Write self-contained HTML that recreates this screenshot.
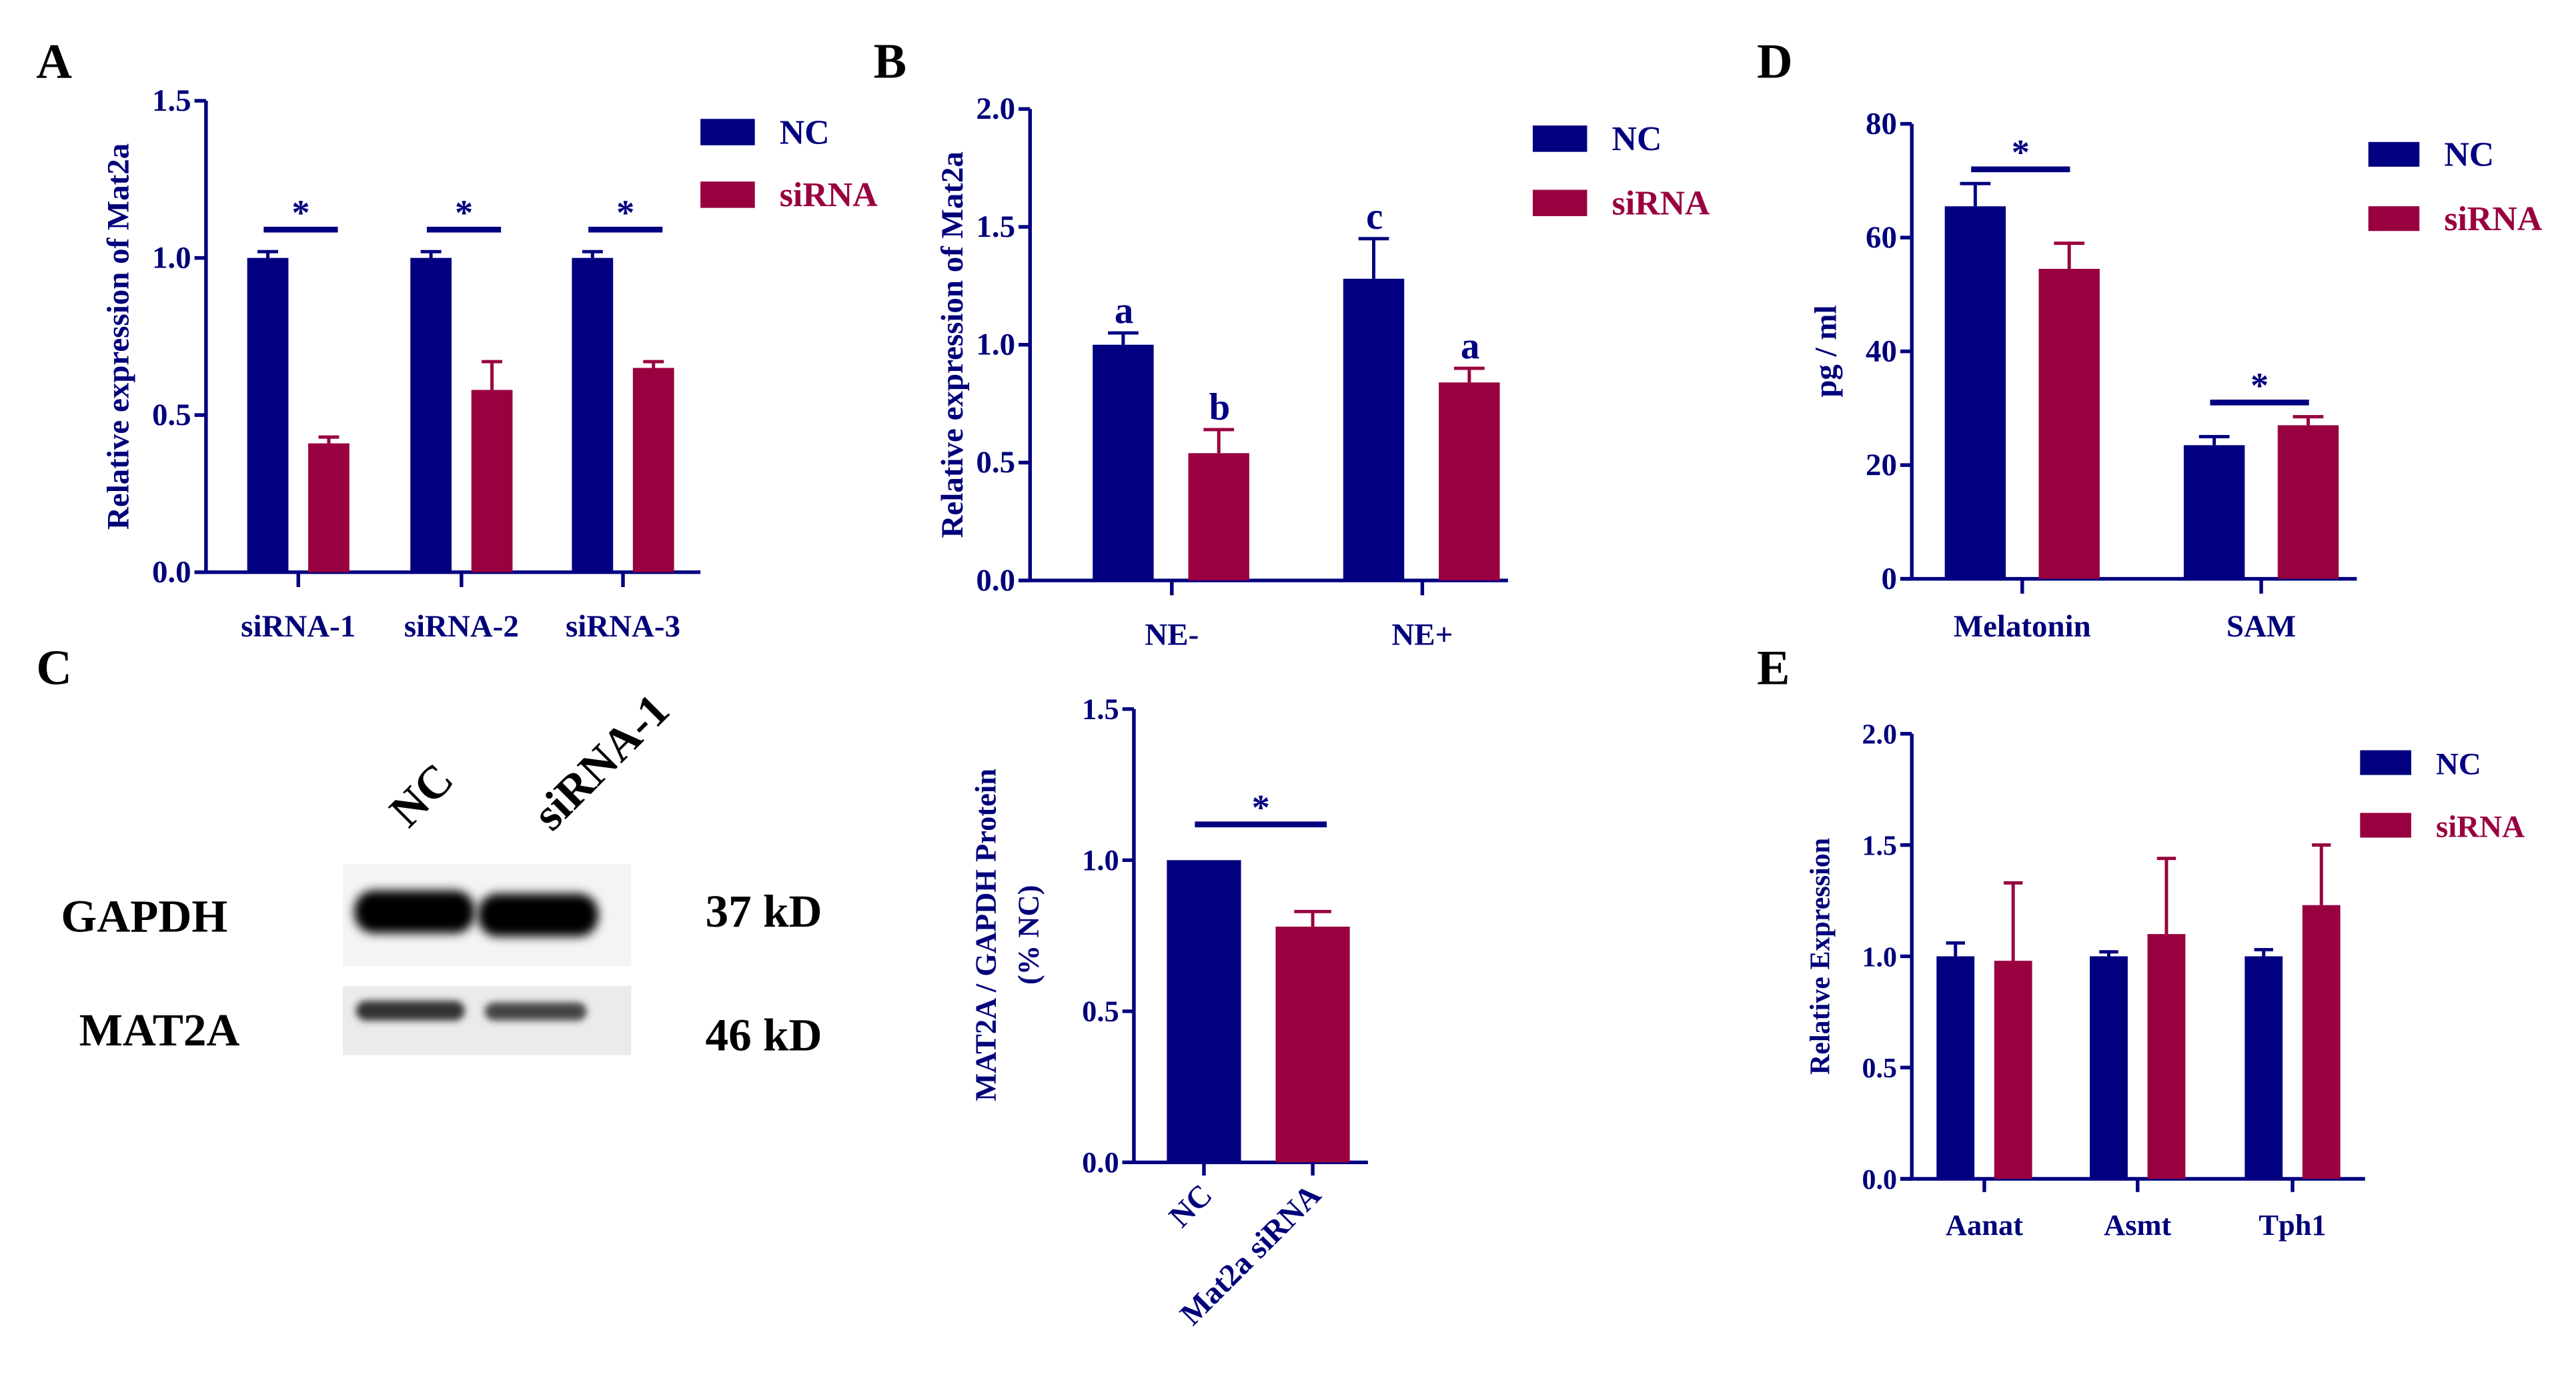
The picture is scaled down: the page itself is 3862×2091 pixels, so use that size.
<!DOCTYPE html>
<html><head><meta charset="utf-8">
<style>
html,body{margin:0;padding:0;background:#fff;}
svg{display:block;}
svg text{font-family:"Liberation Serif","Times New Roman",serif;font-weight:bold;}
</style></head>
<body>
<svg id="fig" width="3862" height="2091" viewBox="0 0 1563 846" xmlns="http://www.w3.org/2000/svg">
<defs>
<filter id="blur1" x="-20%" y="-50%" width="140%" height="200%"><feGaussianBlur stdDeviation="3"/></filter>
<filter id="blur2" x="-20%" y="-50%" width="140%" height="200%"><feGaussianBlur stdDeviation="2.2"/></filter>
</defs>
<g id="root" font-family="Liberation Serif, serif" font-weight="bold"></g>
</svg>
<script>
// Panel A data
const aCats = ["siRNA-1","siRNA-2","siRNA-3"];
const aNC = [1.0,1.0,1.0];
const aNCerr = [0.02,0.02,0.02];
const aSi = [0.41,0.58,0.65];
const aSiErr = [0.02,0.09,0.02];
const aTicks = [0.0,0.5,1.0,1.5];
// Panel B data
const bCats = ["NE-","NE+"];
const bNC = [1.0,1.28];
const bNCerr = [0.05,0.17];
const bSi = [0.54,0.84];
const bSiErr = [0.10,0.06];
const bLettersNC = ["a","c"];
const bLettersSi = ["b","a"];
const bTicks = [0.0,0.5,1.0,1.5,2.0];
// Panel D data
const dCats = ["Melatonin","SAM"];
const dNC = [65.5,23.5];
const dNCerr = [4,1.5];
const dSi = [54.5,27];
const dSiErr = [4.5,1.5];
const dTicks = [0,20,40,60,80];
// Panel C quantification
const cCats = ["NC","Mat2a siRNA"];
const cVals = [1.0,0.78];
const cErr = [0,0.05];
const cTicks = [0.0,0.5,1.0,1.5];
// Panel E data
const eCats = ["Aanat","Asmt","Tph1"];
const eNC = [1.0,1.0,1.0];
const eNCerr = [0.06,0.02,0.03];
const eSi = [0.98,1.1,1.23];
const eSiErr = [0.35,0.34,0.27];
const eTicks = [0.0,0.5,1.0,1.5,2.0];

const NAVY="#000080", RED="#990040", TXT="#00007a";
const NS="http://www.w3.org/2000/svg";
const root=document.getElementById('root');
function el(tag,attrs,parent,text){
  const e=document.createElementNS(NS,tag);
  for(const k in attrs) e.setAttribute(k,attrs[k]);
  if(text!==undefined) e.textContent=text;
  (parent||root).appendChild(e);
  return e;
}
function scale(y0,y1,v0,v1){return v=>y0+(v-v0)*(y1-y0)/(v1-v0);}

function axes(g,x0,x1,yb,yt,ticks,fmt,ys,tickFont){
  let a=el('line',{x1:x0,y1:yt,x2:x0,y2:yb,stroke:NAVY,'stroke-width':2.2},g);
  
  let b=el('line',{x1:x0-7,y1:yb,x2:x1,y2:yb,stroke:NAVY,'stroke-width':2.2},g);
  
  ticks.forEach(t=>{
    const y=ys(t);
    el('line',{x1:x0-7,y1:y,x2:x0,y2:y,stroke:NAVY,'stroke-width':2.2},g);
    const tx=el('text',{x:x0-9,y:y+6,'text-anchor':'end','font-size':tickFont||19,fill:TXT},g,fmt(t));
    
    
  });
}
function bar(g,x,w,v,err,ys,color,name){
  const y=ys(v), yb=ys(0);
  const r=el('rect',{x:x,y:y,width:w,height:yb-y,fill:color},g);
  
  
  if(err>0){
    const ye=ys(v+err), cx=x+w/2, hw=w*0.25;
    el('line',{x1:cx,y1:y,x2:cx,y2:ye,stroke:color,'stroke-width':2},g);
    el('line',{x1:cx-hw,y1:ye,x2:cx+hw,y2:ye,stroke:color,'stroke-width':2},g);
  }
}
function legend(g,x,y1,y2,h,w,fs){
  el('rect',{x:x,y:y1,width:w,height:h,fill:NAVY},g);
  const t1=el('text',{x:x+w+15,y:y1+h/2+7,'font-size':fs,fill:NAVY},g,"NC");
  
  el('rect',{x:x,y:y2,width:w,height:h,fill:RED},g);
  const t2=el('text',{x:x+w+15,y:y2+h/2+7,'font-size':fs,fill:RED},g,"siRNA");
  
}
function sig(g,xa,xb,y){
  el('line',{x1:xa,y1:y,x2:xb,y2:y,stroke:NAVY,'stroke-width':3.5},g);
  const s=el('text',{x:(xa+xb)/2,y:y-3,'text-anchor':'middle','font-size':22,fill:NAVY},g,"*");
  
}
function ytitle(g,x,y,txt,fs){
  const t=el('text',{x:x,y:y,'text-anchor':'middle','font-size':fs,fill:TXT,transform:`rotate(-90 ${x} ${y})`},g,txt);
  
}
function panelLabel(x,y,t){
  const e=el('text',{x:x,y:y,'font-size':30,fill:'#000'},root,t);
  
}
function catLabel(g,x,y,t,fs){
  const e=el('text',{x:x,y:y,'text-anchor':'middle','font-size':fs||19,fill:TXT},g,t);
  
}

// ===== Panel A
panelLabel(22,47,"A");
{
  const g=el('g',{});  
  const ys=scale(347,61,0,1.5);
  axes(g,125,425,347,61,aTicks,t=>t.toFixed(1),ys);
  const centers=[181,280,378];
  aCats.forEach((c,i)=>{
    const cx=centers[i];
    bar(g,cx-31,25,aNC[i],aNCerr[i],ys,NAVY,'bar-nc-'+c);
    bar(g,cx+6,25,aSi[i],aSiErr[i],ys,RED,'bar-sirna-'+c);
    el('line',{x1:cx,y1:347,x2:cx,y2:356,stroke:NAVY,'stroke-width':2.2},g);
    catLabel(g,cx,386,c);
    sig(g,cx-21,cx+24,ys(Math.max(aNC[i]+aNCerr[i],aSi[i]+aSiErr[i])+0.07));
  });
  ytitle(g,78,204,"Relative expression of Mat2a",19);
  legend(g,425,72,110,16,33,21);
}
// ===== Panel B
panelLabel(530,47,"B");
{
  const g=el('g',{});  
  const ys=scale(352,66,0,2.0);
  axes(g,625,915,352,66,bTicks,t=>t.toFixed(1),ys);
  const centers=[711,863];
  bCats.forEach((c,i)=>{
    const cx=centers[i];
    bar(g,cx-48,37,bNC[i],bNCerr[i],ys,NAVY,'bar-nc-'+c);
    bar(g,cx+10,37,bSi[i],bSiErr[i],ys,RED,'bar-sirna-'+c);
    el('line',{x1:cx,y1:352,x2:cx,y2:361,stroke:NAVY,'stroke-width':2.2},g);
    catLabel(g,cx,391,c);
    const l1=el('text',{x:cx-29,y:ys(bNC[i]+bNCerr[i])-6,'text-anchor':'middle','font-size':23,fill:NAVY},g,bLettersNC[i]);
    
    const l2=el('text',{x:cx+29,y:ys(bSi[i]+bSiErr[i])-6,'text-anchor':'middle','font-size':23,fill:NAVY},g,bLettersSi[i]);
    
  });
  ytitle(g,584,209,"Relative expression of Mat2a",19);
  legend(g,930,76,115,16,33,21);
}
// ===== Panel D
panelLabel(1066,47,"D");
{
  const g=el('g',{});  
  const ys=scale(351,75,0,80);
  axes(g,1160,1430,351,75,dTicks,t=>String(t),ys);
  const centers=[1227,1372];
  dCats.forEach((c,i)=>{
    const cx=centers[i];
    bar(g,cx-47,37,dNC[i],dNCerr[i],ys,NAVY,'bar-nc-'+c);
    bar(g,cx+10,37,dSi[i],dSiErr[i],ys,RED,'bar-sirna-'+c);
    el('line',{x1:cx,y1:351,x2:cx,y2:360,stroke:NAVY,'stroke-width':2.2},g);
    catLabel(g,cx,386,c);
    sig(g,cx-31,cx+29,ys(Math.max(dNC[i]+dNCerr[i],dSi[i]+dSiErr[i])+2.5));
  });
  ytitle(g,1114,213,"pg / ml",19);
  legend(g,1437,86,125,15,31,21);
}
// ===== Panel C (blot)
panelLabel(22,415,"C");
{
  const g=el('g',{});  
  el('rect',{x:208,y:524,width:175,height:62,fill:'#f4f4f4'},g);
  el('rect',{x:208,y:598,width:175,height:42,fill:'#ebebeb'},g);
  const b1=el('rect',{x:215,y:540,width:73,height:26,rx:12,fill:'#000',filter:'url(#blur1)'},g);
  
  const b2=el('rect',{x:290,y:542,width:73,height:26,rx:12,fill:'#000',filter:'url(#blur1)'},g);
  
  const b3=el('rect',{x:216,y:607,width:66,height:12,rx:6,fill:'#333',filter:'url(#blur2)'},g);
  
  const b4=el('rect',{x:294,y:608,width:62,height:11,rx:6,fill:'#444',filter:'url(#blur2)'},g);
  
  const t=[["NC",248,503,-45,"lane-label-nc"],["siRNA-1",335,505,-45,"lane-label-sirna"]];
  t.forEach(a=>{const e=el('text',{x:a[1],y:a[2],'font-size':28,fill:'#000',transform:`rotate(${a[3]} ${a[1]} ${a[2]})`},g,a[0]);
    });
  [["GAPDH",37,565,"gapdh-label"],["MAT2A",48,634,"mat2a-label"],["37 kD",428,562,"gapdh-kd"],["46 kD",428,637,"mat2a-kd"]].forEach(a=>{
    const e=el('text',{x:a[1],y:a[2],'font-size':28,fill:'#000'},g,a[0]);
    });
}
// ===== Panel C quantification
{
  const g=el('g',{});  
  const ys=scale(705,430,0,1.5);
  axes(g,688,830,705,430,cTicks,t=>t.toFixed(1),ys,18);
  const xs=[708,774];
  cCats.forEach((c,i)=>{
    bar(g,xs[i],45,cVals[i],cErr[i],ys,i?RED:NAVY,'bar-'+c.replace(' ','-'));
    const cx=xs[i]+22.5;
    el('line',{x1:cx,y1:705,x2:cx,y2:713,stroke:NAVY,'stroke-width':2.2},g);
    const e=el('text',{x:cx+6,y:726,'text-anchor':'end','font-size':19,fill:TXT,transform:`rotate(-45 ${cx+6} ${726})`},g,c);
    
  });
  sig(g,725,805,500);
  ytitle(g,604,567,"MAT2A / GAPDH Protein",18);
  ytitle(g,630,567,"(% NC)",18);
}
// ===== Panel E
panelLabel(1066,415,"E");
{
  const g=el('g',{});  
  const ys=scale(715,445,0,2.0);
  axes(g,1160,1435,715,445,eTicks,t=>t.toFixed(1),ys,17);
  const centers=[1204,1297,1391];
  eCats.forEach((c,i)=>{
    const cx=centers[i];
    bar(g,cx-29,23,eNC[i],eNCerr[i],ys,NAVY,'bar-nc-'+c);
    bar(g,cx+6,23,eSi[i],eSiErr[i],ys,RED,'bar-sirna-'+c);
    el('line',{x1:cx,y1:715,x2:cx,y2:723,stroke:NAVY,'stroke-width':2.2},g);
    catLabel(g,cx,749,c,18);
  });
  ytitle(g,1110,580,"Relative Expression",17);
  legend(g,1432,455,493,15,31,19);
}
</script>
</body></html>
